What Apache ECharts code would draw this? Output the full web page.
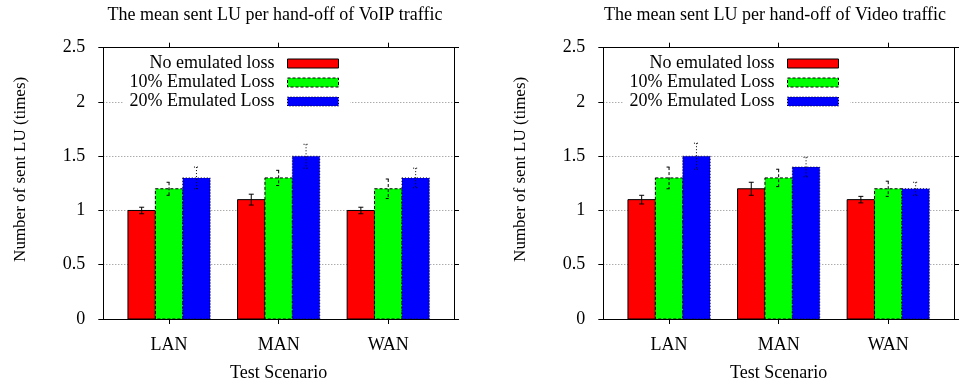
<!DOCTYPE html>
<html>
<head>
<meta charset="utf-8">
<script src="https://cdn.jsdelivr.net/npm/echarts@6/dist/echarts.min.js"></script>
<style>html,body{margin:0;padding:0;background:#fff;}#chart{width:963px;height:387px;}</style>
</head>
<body>
<div id="chart"></div>
<script>
// ---- data ----
const categories = ['LAN', 'MAN', 'WAN'];
const seriesNames = ['No emulated loss', '10% Emulated Loss', '20% Emulated Loss'];
const yTicks = [0, 0.5, 1, 1.5, 2, 2.5];

const voipNoLoss = [1.0, 1.1, 1.0];
const voipNoLossErr = [0.03, 0.05, 0.03];
const voipLoss10 = [1.2, 1.3, 1.2];
const voipLoss10Err = [0.06, 0.07, 0.09];
const voipLoss20 = [1.3, 1.5, 1.3];
const voipLoss20Err = [0.10, 0.11, 0.09];

const videoNoLoss = [1.1, 1.2, 1.1];
const videoNoLossErr = [0.04, 0.06, 0.03];
const videoLoss10 = [1.3, 1.3, 1.2];
const videoLoss10Err = [0.10, 0.08, 0.07];
const videoLoss20 = [1.5, 1.4, 1.2];
const videoLoss20Err = [0.12, 0.09, 0.06];

const titles = ['The mean sent LU per hand-off of VoIP traffic', 'The mean sent LU per hand-off of Video traffic'];
const yAxisTitle = 'Number of sent LU (times)';
const xAxisTitle = 'Test Scenario';

// ---- styling ----
const FONT = "'Liberation Serif', 'Times New Roman', serif";
const colors = ['#ff0000', '#00ff00', '#0000ff'];
const dashes = [null, [3, 2], [1, 2]];
const borderTypes = ['solid', [3, 2], [1, 2]];
const BAR_W = 0.25;
const offsets = [-0.25, 0, 0.25];
const catIdx = categories.map((c, i) => i);

function makeRender(k) {
  return function (params, api) {
    const g = api.value(0), v = api.value(1), e = api.value(2);
    const cx = g + offsets[k];
    const tl = api.coord([cx - BAR_W / 2, v]);
    const br = api.coord([cx + BAR_W / 2, 0]);
    const c = api.coord([cx, v]);
    const hi = api.coord([cx, v + e]);
    const lo = api.coord([cx, v - e]);
    const cap = 2.5;
    const ls = { stroke: '#000', lineWidth: 1, lineDash: dashes[k] };
    return {
      type: 'group',
      children: [
        { type: 'rect', shape: { x: tl[0], y: tl[1], width: br[0] - tl[0], height: br[1] - tl[1] },
          style: { fill: colors[k], stroke: '#000', lineWidth: 1, lineDash: dashes[k] } },
        { type: 'line', shape: { x1: c[0], y1: hi[1], x2: c[0], y2: lo[1] }, style: ls },
        { type: 'line', shape: { x1: c[0] - cap, y1: hi[1], x2: c[0] + cap, y2: hi[1] }, style: ls },
        { type: 'line', shape: { x1: c[0] - cap, y1: lo[1], x2: c[0] + cap, y2: lo[1] }, style: ls }
      ]
    };
  };
}

const panels = [
  { vals: [voipNoLoss, voipLoss10, voipLoss20], errs: [voipNoLossErr, voipLoss10Err, voipLoss20Err] },
  { vals: [videoNoLoss, videoLoss10, videoLoss20], errs: [videoNoLossErr, videoLoss10Err, videoLoss20Err] }
];

const PANEL_SHIFT = 500;
const grids = [], xAxes = [], yAxes = [], series = [], legends = [], titleOpts = [];
const axisLineStyle = { color: '#000', width: 1 };
const labelStyle = { fontFamily: FONT, fontSize: 18, color: '#000' };

panels.forEach((p, pi) => {
  const left = 103.3 + pi * PANEL_SHIFT;
  grids.push({ left: left, top: 47.7, width: 350.7, height: 273.3 });
  // bottom x
  xAxes.push({
    type: 'value', gridIndex: pi, min: -0.6, max: 2.6, position: 'bottom',
    axisLine: { show: true, onZero: false, lineStyle: axisLineStyle },
    axisTick: { show: true, inside: false, length: 5, customValues: catIdx, lineStyle: axisLineStyle },
    axisLabel: { customValues: catIdx, formatter: v => categories[Math.round(v)], margin: 17, ...labelStyle },
    splitLine: { show: false },
    name: xAxisTitle, nameLocation: 'middle', nameGap: 45,
    nameTextStyle: { fontFamily: FONT, fontSize: 18, color: '#000' }
  });
  // top mirror x
  xAxes.push({
    type: 'value', gridIndex: pi, min: -0.6, max: 2.6, position: 'top',
    axisLine: { show: true, onZero: false, lineStyle: axisLineStyle },
    axisTick: { show: true, inside: false, length: 5, customValues: catIdx, lineStyle: axisLineStyle },
    axisLabel: { show: false }, splitLine: { show: false }
  });
  yAxes.push({
    type: 'value', gridIndex: pi, min: 0, max: 2.5, interval: 0.5, position: 'left',
    axisLine: { show: true, onZero: false, lineStyle: axisLineStyle },
    axisTick: { show: true, inside: false, length: 5, lineStyle: axisLineStyle },
    axisLabel: { margin: 18, ...labelStyle, formatter: v => String(v) },
    splitLine: { show: true, lineStyle: { color: '#888', width: 1, type: [1, 2] } },
    name: yAxisTitle, nameLocation: 'middle', nameGap: 74,
    nameTextStyle: { fontFamily: FONT, fontSize: 17, color: '#000', padding: [0, 0, 0, 28] }
  });
  yAxes.push({
    type: 'value', gridIndex: pi, min: 0, max: 2.5, interval: 0.5, position: 'right',
    axisLine: { show: true, onZero: false, lineStyle: axisLineStyle },
    axisTick: { show: true, inside: false, length: 5, lineStyle: axisLineStyle },
    axisLabel: { show: false }, splitLine: { show: false }
  });
  for (let k = 0; k < 3; k++) {
    series.push({
      type: 'custom', name: seriesNames[k],
      xAxisIndex: pi * 2, yAxisIndex: pi * 2,
      itemStyle: { color: colors[k] },
      encode: { x: 0, y: 1 },
      renderItem: makeRender(k),
      data: categories.map((c, i) => [i, p.vals[k][i], p.errs[k][i]])
    });
  }
  legends.push({
    orient: 'vertical', align: 'right', right: 963 - (350 + pi * PANEL_SHIFT), top: 54,
    padding: [0, 11, 0, 6], backgroundColor: '#fff', itemGap: 0,
    itemWidth: 51, itemHeight: 9, icon: 'rect', selectedMode: false,
    textStyle: { fontFamily: FONT, fontSize: 18, color: '#000', lineHeight: 19, padding: [0, 8, 0, 0] },
    data: seriesNames.map((n, k) => ({
      name: n,
      itemStyle: { color: colors[k], borderColor: '#000', borderWidth: 1, borderType: borderTypes[k] }
    }))
  });
  titleOpts.push({
    text: titles[pi], left: 275 + pi * PANEL_SHIFT, top: 6, textAlign: 'center', padding: 0,
    textStyle: { fontFamily: FONT, fontSize: 18, fontWeight: 'normal', color: '#000' }
  });
});

const chart = echarts.init(document.getElementById('chart'), null, { renderer: 'canvas' });
chart.setOption({
  animation: false,
  backgroundColor: '#fff',
  title: titleOpts,
  legend: legends,
  grid: grids,
  xAxis: xAxes,
  yAxis: yAxes,
  series: series
});
</script>
</body>
</html>
